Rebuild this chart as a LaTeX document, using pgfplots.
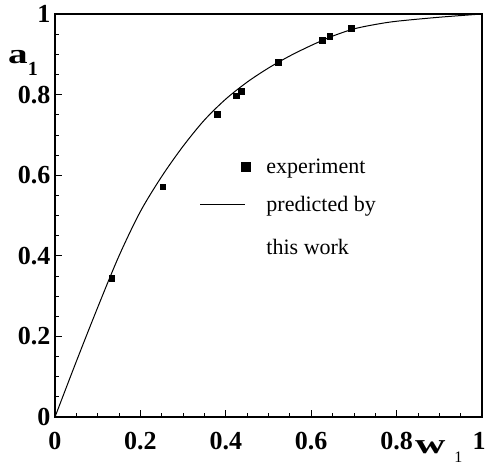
\documentclass[border=0pt]{standalone}
\usepackage{fontspec}
\setmainfont{Liberation Serif}
\usepackage{pgfplots}
\pgfplotsset{compat=1.18}
\usepackage{pgfplotstable}

% experiment: w1, a1
\pgfplotstableread{
w a
0.133 0.345
0.252 0.571
0.380 0.752
0.425 0.797
0.436 0.809
0.523 0.881
0.626 0.935
0.643 0.945
0.694 0.965
}\expdata

% predicted curve
\pgfplotstableread{
w a
0     0
0.05  0.138
0.10  0.272
0.15  0.400
0.20  0.510
0.25  0.597
0.30  0.672
0.35  0.737
0.40  0.789
0.45  0.831
0.50  0.866
0.55  0.896
0.60  0.922
0.65  0.945
0.70  0.963
0.75  0.974
0.80  0.982
0.90  0.992
1.00  1.000
}\preddata

\begin{document}
\begin{tikzpicture}
\begin{axis}[
    scale only axis,
    width=427pt, height=403pt,
    xmin=0, xmax=1, ymin=0, ymax=1,
    clip=false,
    xtick={0,0.2,0.4,0.6,0.8,1},
    ytick={0,0.2,0.4,0.6,0.8,1},
    xticklabels={0,0.2,0.4,0.6,0.8,\hspace*{-6pt}1},
    yticklabels={\raisebox{-6pt}{0}\hspace{11pt},0.2,0.4,0.6,0.8,\raisebox{-12pt}{1}},
    minor tick num=3,
    xtick pos=bottom, ytick pos=left,
    tick align=inside,
    major tick length=7pt, minor tick length=4pt,
    axis line style={line width=1.3pt},
    tick style={line width=0.8pt, black},
    ticklabel style={font=\fontsize{26}{26}\selectfont\bfseries},
    xticklabel style={yshift=-12pt},
    yticklabel style={xshift=-1pt},
    /pgf/number format/assume math mode=true,
    legend style={at={(axis cs:0.332,0.652)}, anchor=north west,
        draw=none, fill=none,
        font=\fontsize{22}{26}\selectfont,
        nodes={align=left},
        row sep=18pt},
    legend cell align=left,
]
\addplot[only marks, mark=square*, mark size=2.8pt, black,
    legend image code/.code={
        \path[draw=none, fill=none] (0pt,0pt) -- (64pt,0pt);
        \fill[black] (41pt,-4.5pt) rectangle (50pt,4.5pt);}]
    table[x=w, y=a] {\expdata};
\addlegendentry{experiment}
\addplot[black, line width=1pt, smooth,
    legend image code/.code={
        \path[draw=none, fill=none] (0pt,22pt) -- (64pt,22pt);
        \draw[black, line width=1pt] (0pt,22pt) -- (45pt,22pt);}]
    table[x=w, y=a] {\preddata};
\addlegendentry{predicted by\\[17pt]this work}

\node[anchor=base west, inner sep=0pt, font=\fontsize{28}{28}\selectfont\bfseries]
    at (axis cs:0,0.878) [xshift=-47pt]
    {\scalebox{1.4}[1]{a}\raisebox{-12pt}{\fontsize{20}{20}\selectfont 1}};
\node[anchor=base west, inner sep=0pt, font=\fontsize{28}{28}\selectfont\bfseries]
    at (axis cs:0.843,0) [yshift=-36pt]
    {\scalebox{1.5}[1]{w}\hspace{9pt}\raisebox{-9pt}{\fontsize{16}{16}\selectfont\mdseries 1}};
\end{axis}
\pgfresetboundingbox
\path[use as bounding box] ([xshift=-55pt,yshift=-50pt]current axis.south west)
    rectangle ([xshift=8pt,yshift=14pt]current axis.north east);
\end{tikzpicture}
\end{document}
